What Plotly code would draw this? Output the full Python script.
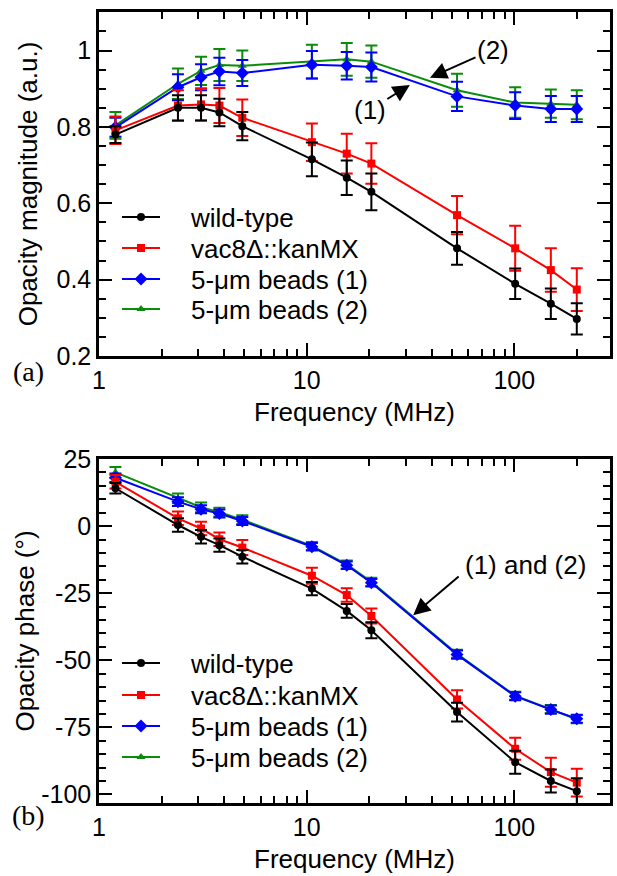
import plotly.graph_objects as go
from plotly.subplots import make_subplots

# ---------------- data ----------------
freq = [1.2, 2.4, 3.1, 3.8, 4.9, 10.6, 15.6, 20.5, 53, 101, 150, 200]

mag_wt = [0.780, 0.850, 0.850, 0.838, 0.802, 0.715, 0.667, 0.630, 0.482, 0.389, 0.337, 0.297]
mag_wt_err = [0.022, 0.033, 0.033, 0.036, 0.037, 0.044, 0.045, 0.048, 0.043, 0.040, 0.040, 0.041]
mag_vac = [0.791, 0.856, 0.859, 0.856, 0.824, 0.760, 0.730, 0.704, 0.569, 0.482, 0.425, 0.374]
mag_vac_err = [0.036, 0.040, 0.042, 0.046, 0.048, 0.049, 0.052, 0.053, 0.050, 0.059, 0.057, 0.056]
mag_b1 = [0.799, 0.904, 0.930, 0.945, 0.941, 0.963, 0.960, 0.957, 0.880, 0.856, 0.847, 0.847]
mag_b1_err = [0.025, 0.034, 0.034, 0.036, 0.034, 0.036, 0.036, 0.038, 0.038, 0.035, 0.034, 0.034]
mag_b2 = [0.804, 0.913, 0.947, 0.962, 0.960, 0.971, 0.977, 0.971, 0.896, 0.864, 0.861, 0.858]
mag_b2_err = [0.035, 0.040, 0.037, 0.042, 0.040, 0.044, 0.043, 0.042, 0.043, 0.040, 0.037, 0.038]

ph_wt = [14.1, 0.4, -4.0, -7.1, -11.4, -23.3, -31.6, -38.8, -69.3, -88.0, -95.0, -98.8]
ph_wt_err = [2.0, 2.5, 2.5, 2.5, 2.5, 2.5, 2.6, 3.0, 3.5, 4.3, 4.3, 4.8]
ph_vac = [16.5, 2.9, -0.9, -4.9, -8.0, -18.5, -25.7, -33.5, -64.6, -83.0, -91.7, -95.6]
ph_vac_err = [2.5, 2.5, 2.5, 2.5, 2.8, 3.0, 2.5, 2.8, 3.4, 4.1, 5.4, 5.2]
ph_b1 = [18.0, 9.1, 6.3, 4.7, 1.9, -7.7, -14.6, -21.1, -47.9, -63.4, -68.4, -71.8]
ph_b1_err = [1.6, 1.6, 1.5, 1.5, 1.5, 1.4, 1.4, 1.4, 1.5, 1.5, 1.5, 1.5]
ph_b2 = [20.0, 10.3, 7.0, 5.2, 2.4, -7.4, -14.3, -20.8, -47.6, -63.2, -68.2, -72.0]
ph_b2_err = [2.0, 1.8, 1.8, 1.6, 1.6, 1.5, 1.5, 1.5, 1.5, 1.5, 1.5, 1.5]

names = ["wild-type", "vac8Δ::kanMX", "5-μm beads (1)", "5-μm beads (2)"]
colors = ["#000000", "#ff0000", "#0000ff", "#0a8c0a"]
symbols = ["circle", "square", "diamond", "triangle-up"]
msizes = [8, 8, 10, 8]

ytick_top = [0.2, 0.4, 0.6, 0.8, 1.0]
ytick_top_text = ["0.2", "0.4", "0.6", "0.8", "1"]
ytick_bot = [-100, -75, -50, -25, 0, 25]
ytick_bot_text = ["-100", "-75", "-50", "-25", "0", "25"]
xtick_major = [1, 10, 100]
xtick_minor = [2, 3, 4, 5, 6, 7, 8, 9, 20, 30, 40, 50, 60, 70, 80, 90, 200]

FONT = "Liberation Sans, Arial, sans-serif"
FS = 25
FS_T = 26

W, H = 617, 876
ml, mr, mt, mb = 99, 7, 12, 73
pw = W - ml - mr
ph = H - mt - mb


def px_x(p):
    return (p - ml) / pw


def px_y(p):
    return (H - mb - p) / ph


fig = make_subplots(rows=2, cols=1, vertical_spacing=0.13)

mag_sets = [(mag_wt, mag_wt_err), (mag_vac, mag_vac_err), (mag_b1, mag_b1_err), (mag_b2, mag_b2_err)]
ph_sets = [(ph_wt, ph_wt_err), (ph_vac, ph_vac_err), (ph_b1, ph_b1_err), (ph_b2, ph_b2_err)]
draw_order = [3, 2, 1, 0]
legend_rows = {1: [217, 248, 279, 309], 2: [663, 695, 726, 757]}

legend_layout = {}
for row, sets in [(1, mag_sets), (2, ph_sets)]:
    for i in draw_order:
        y, e = sets[i]
        k = (row - 1) * 4 + i + 1
        lname = "legend" if k == 1 else f"legend{k}"
        fig.add_trace(go.Scatter(
            x=freq, y=y, mode="lines+markers", name="\u2003" + names[i],
            legend=lname,
            line=dict(color=colors[i], width=2),
            marker=dict(color=colors[i], symbol=symbols[i], size=msizes[i]),
            error_y=dict(type="data", array=e, visible=True, color=colors[i],
                         thickness=2, width=6),
        ), row=row, col=1)
        legend_layout[lname] = dict(
            x=px_x(117), y=px_y(legend_rows[row][i]), xanchor="left", yanchor="middle",
            bgcolor="rgba(0,0,0,0)", font=dict(family=FONT, size=FS_T, color="black"),
            itemwidth=38, borderwidth=0)

axis_common = dict(
    showline=True, linewidth=2.5, linecolor="black", mirror="ticks",
    ticks="inside", tickwidth=2, tickcolor="black",
    showgrid=False, zeroline=False, automargin=False,
    tickfont=dict(family=FONT, size=FS, color="black"),
)

for r in (1, 2):
    fig.update_xaxes(type="log", range=[0, 2.461],
                     tickmode="array", tickvals=xtick_major,
                     ticktext=[str(v) for v in xtick_major], ticklen=13,
                     minor=dict(tickmode="array", tickvals=xtick_minor, ticks="inside",
                                ticklen=7, tickwidth=2, tickcolor="black", showgrid=False),
                     title=dict(text="Frequency (MHz)", font=dict(family=FONT, size=FS_T, color="black"),
                                standoff=11),
                     row=r, col=1, **axis_common)

fig.update_yaxes(range=[0.2, 1.101], tickmode="array", tickvals=ytick_top, ticktext=ytick_top_text,
                 ticklen=13,
                 minor=dict(tickmode="linear", tick0=0.2, dtick=0.05, ticks="inside", ticklen=7,
                            tickwidth=2, tickcolor="black", showgrid=False),
                 title=dict(text="Opacity magnitude (a.u.)", font=dict(family=FONT, size=FS_T, color="black"),
                            standoff=12),
                 row=1, col=1, **axis_common)
fig.update_yaxes(range=[-103.2, 25], tickmode="array", tickvals=ytick_bot, ticktext=ytick_bot_text,
                 ticklen=13,
                 minor=dict(tickmode="linear", tick0=0, dtick=5, ticks="inside", ticklen=7,
                            tickwidth=2, tickcolor="black", showgrid=False),
                 title=dict(text="Opacity phase (°)", font=dict(family=FONT, size=FS_T, color="black"),
                            standoff=0),
                 row=2, col=1, **axis_common)

fig.update_layout(
    width=W, height=H,
    margin=dict(l=ml, r=mr, t=mt, b=mb, autoexpand=False),
    paper_bgcolor="white", plot_bgcolor="white",
    font=dict(family=FONT, size=FS, color="black"),
    xaxis=dict(domain=[0, 1]),
    yaxis=dict(domain=[px_y(356), 1]),
    xaxis2=dict(domain=[0, 1]),
    yaxis2=dict(domain=[0, px_y(459)]),
    showlegend=True,
    **legend_layout,
)

ann_font = dict(family=FONT, size=FS_T, color="black")
fig.add_annotation(x=1.594, y=0.929, xref="x", yref="y", text="(2)", showarrow=True,
                   ax=63, ay=-28, arrowhead=2, arrowsize=1.7, arrowwidth=2, arrowcolor="black",
                   font=ann_font, standoff=0)
fig.add_annotation(x=1.497, y=0.910, xref="x", yref="y", text="(1)", showarrow=True,
                   ax=-40, ay=25, arrowhead=2, arrowsize=1.7, arrowwidth=2, arrowcolor="black",
                   font=ann_font, standoff=0)
fig.add_annotation(x=1.513, y=-33.2, xref="x2", yref="y2", text="", showarrow=True,
                   ax=47, ay=-40, arrowhead=2, arrowsize=1.7, arrowwidth=2, arrowcolor="black",
                   standoff=0)
fig.add_annotation(x=2.055, y=-14.6, xref="x2", yref="y2", text="(1) and (2)", showarrow=False,
                   font=ann_font)

serif = dict(family="Liberation Serif, Times New Roman, serif", size=28, color="black")
fig.add_annotation(x=px_x(28), y=px_y(371), xref="paper", yref="paper", text="(a)",
                   xanchor="center", yanchor="middle", showarrow=False, font=serif)
fig.add_annotation(x=px_x(28), y=px_y(815), xref="paper", yref="paper", text="(b)",
                   xanchor="center", yanchor="middle", showarrow=False, font=serif)

fig.write_html("out.html", config={"displayModeBar": False},
               post_script="document.body.style.margin='0';")
